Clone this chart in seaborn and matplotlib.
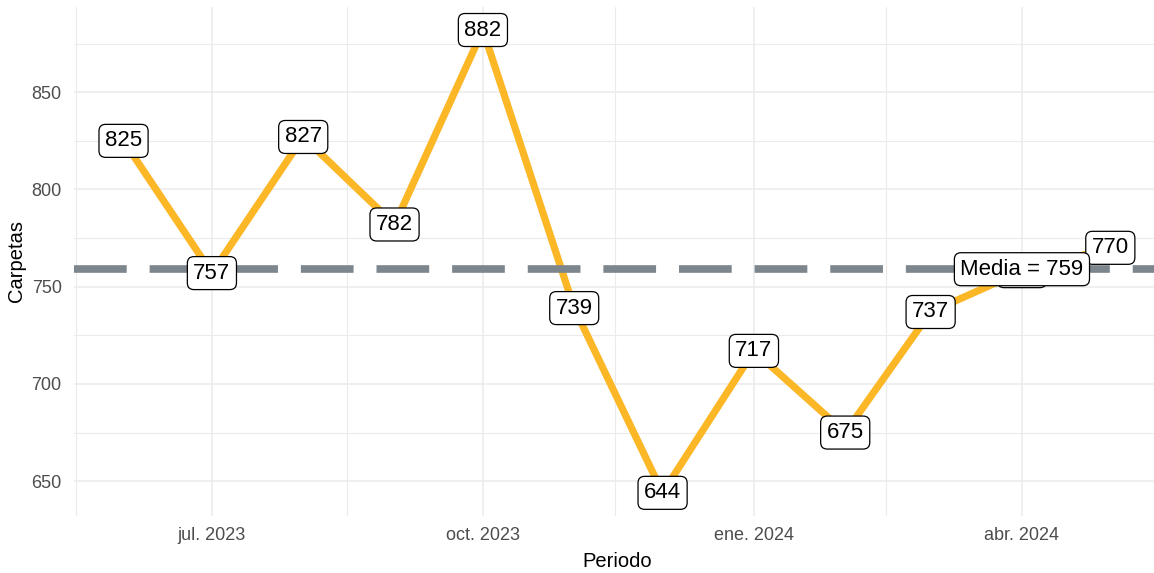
import pandas as pd
import matplotlib.pyplot as plt
import matplotlib.dates as mdates
import seaborn as sns

# Data (monthly, first day of month)
periodos = ["2023-06-01", "2023-07-01", "2023-08-01", "2023-09-01", "2023-10-01", "2023-11-01",
            "2023-12-01", "2024-01-01", "2024-02-01", "2024-03-01", "2024-04-01", "2024-05-01"]
carpetas = [825, 757, 827, 782, 882, 739, 644, 717, 675, 737, 758, 770]
tick_fechas = ["2023-07-01", "2023-10-01", "2024-01-01", "2024-04-01"]
tick_labels = ["jul. 2023", "oct. 2023", "ene. 2024", "abr. 2024"]
minor_fechas = ["2023-05-16", "2023-08-16", "2023-11-15", "2024-02-15", "2024-05-16"]
media = 759
media_fecha = "2024-04-01"

df = pd.DataFrame({"Periodo": pd.to_datetime(periodos), "Carpetas": carpetas})

sns.set_theme(style="white")
plt.rcParams['font.family'] = ['Liberation Sans', 'DejaVu Sans']

fig = plt.figure(figsize=(11.54, 5.73), dpi=100)
ax = fig.add_axes([0.0643, 0.0995, 0.9406, 0.8885])

sns.lineplot(data=df, x="Periodo", y="Carpetas", color="#FBB726", linewidth=5.2,
             ax=ax, zorder=3, solid_capstyle="butt")

ax.axhline(media, color="#7D868C", linewidth=5.5, linestyle=(0, (6.9, 3.0)), zorder=4)

box = dict(boxstyle="round,pad=0.27,rounding_size=0.3", facecolor="white",
           edgecolor="black", linewidth=0.9)
for fecha, valor in zip(df["Periodo"], df["Carpetas"]):
    ax.text(fecha, valor, str(valor), ha="center", va="center", fontsize=16,
            color="black", bbox=box, zorder=5)
ax.text(pd.Timestamp(media_fecha), media, f"Media = {media}", ha="center", va="center",
        fontsize=16, color="black", bbox=box, zorder=6)

ax.set_xticks(pd.to_datetime(tick_fechas))
ax.set_xticklabels(tick_labels)
ax.set_xticks(pd.to_datetime(minor_fechas), minor=True)
ax.set_yticks([650, 700, 750, 800, 850])
ax.set_yticks([625, 675, 725, 775, 825, 875], minor=True)

# limits with 5% expansion like ggplot (set after ticks so they are not widened)
xmin, xmax = mdates.date2num(df["Periodo"].min()), mdates.date2num(df["Periodo"].max())
dx = (xmax - xmin) * 0.05
ax.set_xlim(xmin - dx, xmax + dx)
ymin, ymax = min(carpetas), max(carpetas)
dy = (ymax - ymin) * 0.05
ax.set_ylim(ymin - dy, ymax + dy)

ax.grid(which="major", color="#EBEBEB", linewidth=1.1)
ax.grid(which="minor", color="#EBEBEB", linewidth=0.8)
ax.set_axisbelow(True)
for s in ax.spines.values():
    s.set_visible(False)
ax.tick_params(which="both", length=0, labelsize=13, labelcolor="#4D4D4D", pad=8)
ax.tick_params(axis="y", pad=9)

ax.set_xlabel("Periodo", fontsize=14.5, color="black", labelpad=6)
ax.set_ylabel("Carpetas", fontsize=14.5, color="black", labelpad=4)

fig.savefig("out.png", dpi=100, facecolor="white")
